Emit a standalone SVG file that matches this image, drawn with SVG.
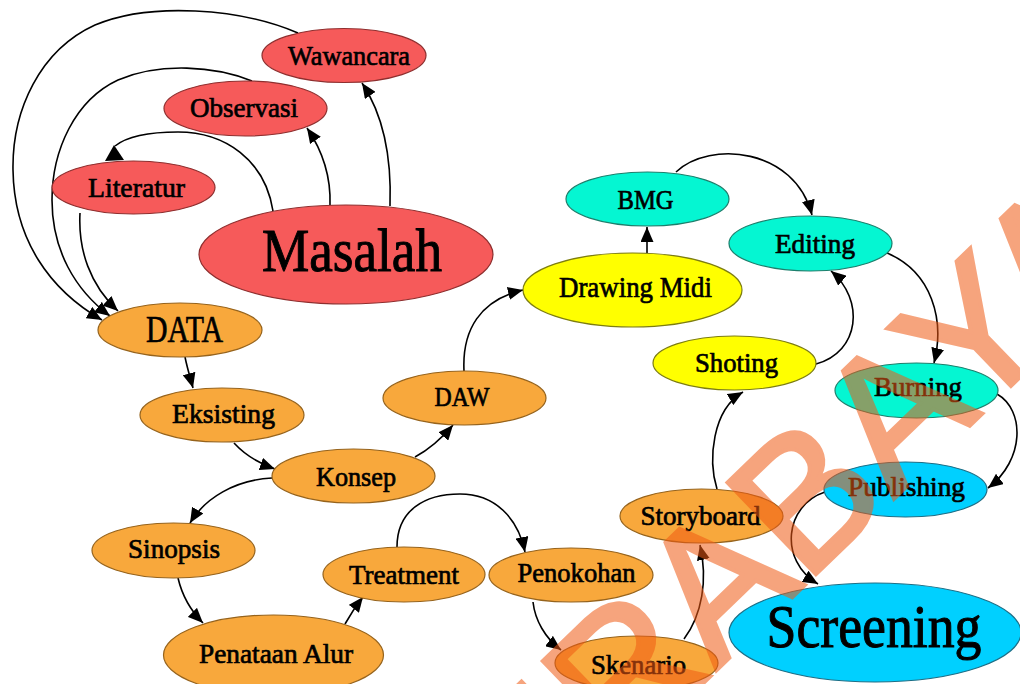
<svg xmlns="http://www.w3.org/2000/svg" width="1020" height="684" viewBox="0 0 1020 684">
<defs>
<style>
.n ellipse{stroke-width:1.2}
.red ellipse{fill:#F65A5A;stroke:#8E2E2E}
.org ellipse{fill:#F8A83C;stroke:#96631C}
.yel ellipse{fill:#FFFF00;stroke:#7D7D10}
.cyn ellipse{fill:#05F6D2;stroke:#1C7F6C}
.blu ellipse{fill:#00D0FF;stroke:#1D6E86}
.n text{font-family:"Liberation Serif","Times New Roman",serif;font-size:28px;fill:#000;stroke:#000;stroke-width:0.7;text-anchor:middle}
.n text.big{font-size:61px;stroke-width:1}
.e path{fill:none;stroke:#000;stroke-width:1.6}
.e path.a{marker-end:url(#ah)}
.wm{font-family:"Liberation Sans",Arial,sans-serif;font-size:185px;fill:#F05A14;stroke:#F05A14;stroke-width:4;stroke-linejoin:miter}
</style>
<marker id="ah" viewBox="0 0 15 13" refX="15" refY="6.5" markerWidth="15" markerHeight="13" markerUnits="userSpaceOnUse" orient="auto">
<path d="M0,0 L15,6.5 L0,13 z" fill="#000"/>
</marker>
</defs>
<rect width="1020" height="684" fill="#fff"/>

<g id="connectors" class="e">
<path class="a" d="M298,33 C240,8 150,2 95,25 C40,50 12,110 13,170 C14,240 50,290 102,320"/>
<path class="a" d="M252,81 C215,66 160,62 118,80 C75,100 52,150 52,200 C52,250 75,290 110,316"/>
<path class="a" d="M80,213 C78,250 90,285 118,311"/>
<path d="M273,211 C265,160 225,132 178,132 C145,132 125,138 115,146"/>
<polygon points="114,145 105,161 124,160" fill="#000"/>
<path class="a" d="M330,205 C331,175 322,150 307,128"/>
<path class="a" d="M390,206 C392,150 380,110 362,83"/>
<path class="a" d="M185,357 C187,367 190,377 193,388"/>
<path class="a" d="M234,443 C245,455 258,463 275,469"/>
<path class="a" d="M415,457 C428,450 442,438 453,425"/>
<path class="a" d="M272,478 C235,480 205,498 190,523"/>
<path class="a" d="M178,578 C182,595 190,610 203,623"/>
<path class="a" d="M345,624 C350,615 356,606 363,597"/>
<path class="a" d="M397,547 C397,510 425,494 460,494 C495,494 518,518 525,552"/>
<path class="a" d="M533,602 C535,620 545,638 561,650"/>
<path class="a" d="M684,639 C702,615 708,580 700,545"/>
<path class="a" d="M717,489 C708,460 712,410 743,392"/>
<path class="a" d="M816,364 C860,352 865,300 831,271"/>
<path class="a" d="M676,172 C710,140 795,148 812,215"/>
<path class="a" d="M647,253 L647,227"/>
<path class="a" d="M464,371 C462,330 480,300 523,290"/>
<path class="a" d="M887,253 C932,272 945,320 934,363"/>
<path class="a" d="M997,394 C1025,410 1025,460 988,488"/>
<path class="a" d="M825,492 C785,505 778,560 818,584"/>
</g>

<g id="wawancara" class="n red"><ellipse cx="344" cy="55.5" rx="82" ry="27"/><text x="349" y="65" textLength="122" lengthAdjust="spacingAndGlyphs">Wawancara</text></g>
<g id="observasi" class="n red"><ellipse cx="245.5" cy="108.5" rx="81.5" ry="27.5"/><text x="244" y="117" textLength="108" lengthAdjust="spacingAndGlyphs">Observasi</text></g>
<g id="literatur" class="n red"><ellipse cx="133.5" cy="187.5" rx="81.5" ry="26.5"/><text x="136.5" y="197" textLength="97" lengthAdjust="spacingAndGlyphs">Literatur</text></g>
<g id="masalah" class="n red"><ellipse cx="346" cy="254.5" rx="147" ry="49.5"/><text class="big" x="352" y="271" textLength="180" lengthAdjust="spacingAndGlyphs">Masalah</text></g>
<g id="data" class="n org"><ellipse cx="180" cy="330" rx="82" ry="27"/><text x="184.5" y="342" style="font-size:37px" textLength="77" lengthAdjust="spacingAndGlyphs">DATA</text></g>
<g id="eksisting" class="n org"><ellipse cx="222" cy="415" rx="82" ry="27"/><text x="223.5" y="423" textLength="103" lengthAdjust="spacingAndGlyphs">Eksisting</text></g>
<g id="konsep" class="n org"><ellipse cx="353.5" cy="476" rx="81.5" ry="27"/><text x="356" y="486" textLength="80" lengthAdjust="spacingAndGlyphs">Konsep</text></g>
<g id="daw" class="n org"><ellipse cx="464.5" cy="398" rx="81.5" ry="27"/><text x="462" y="406" textLength="55" lengthAdjust="spacingAndGlyphs">DAW</text></g>
<g id="sinopsis" class="n org"><ellipse cx="173.5" cy="550.5" rx="81.5" ry="27.5"/><text x="174" y="558" textLength="92" lengthAdjust="spacingAndGlyphs">Sinopsis</text></g>
<g id="treatment" class="n org"><ellipse cx="404" cy="574.5" rx="81" ry="27.5"/><text x="404" y="584" textLength="110" lengthAdjust="spacingAndGlyphs">Treatment</text></g>
<g id="penataan-alur" class="n org"><ellipse cx="273.5" cy="655" rx="110" ry="40"/><text x="276" y="663" textLength="154" lengthAdjust="spacingAndGlyphs">Penataan Alur</text></g>
<g id="penokohan" class="n org"><ellipse cx="571" cy="575" rx="82" ry="27"/><text x="576.5" y="582" textLength="118" lengthAdjust="spacingAndGlyphs">Penokohan</text></g>
<g id="skenario" class="n org"><ellipse cx="636.5" cy="663" rx="81.5" ry="27"/><text x="638.5" y="674" textLength="95" lengthAdjust="spacingAndGlyphs">Skenario</text></g>
<g id="storyboard" class="n org"><ellipse cx="701.5" cy="516" rx="81.5" ry="27"/><text x="700.5" y="525" textLength="120" lengthAdjust="spacingAndGlyphs">Storyboard</text></g>
<g id="drawing-midi" class="n yel"><ellipse cx="632.5" cy="290" rx="109.5" ry="37"/><text x="635.5" y="297" style="font-size:30px" textLength="153" lengthAdjust="spacingAndGlyphs">Drawing Midi</text></g>
<g id="shoting" class="n yel"><ellipse cx="734.5" cy="363" rx="81.5" ry="27"/><text x="736.5" y="372" textLength="83" lengthAdjust="spacingAndGlyphs">Shoting</text></g>
<g id="bmg" class="n cyn"><ellipse cx="647.5" cy="199" rx="81.5" ry="27"/><text x="645.5" y="209" textLength="56" lengthAdjust="spacingAndGlyphs">BMG</text></g>
<g id="editing" class="n cyn"><ellipse cx="810.5" cy="243.5" rx="81.5" ry="27.5"/><text x="815" y="253" textLength="80" lengthAdjust="spacingAndGlyphs">Editing</text></g>
<g id="burning" class="n cyn"><ellipse cx="916.5" cy="390.5" rx="81.5" ry="27.5"/><text x="918" y="396" textLength="88" lengthAdjust="spacingAndGlyphs">Burning</text></g>
<g id="publishing" class="n blu"><ellipse cx="905.5" cy="489.5" rx="81.5" ry="27.5"/><text x="906.5" y="496" textLength="117" lengthAdjust="spacingAndGlyphs">Publishing</text></g>
<g id="screening" class="n blu"><ellipse cx="875" cy="632.5" rx="146" ry="49.5"/><text class="big" x="874" y="647" textLength="215" lengthAdjust="spacingAndGlyphs">Screening</text></g>

<g id="watermark" opacity="0.55"><text class="wm" transform="translate(435.3,941.8) rotate(-44)">SURABAYA</text></g>
</svg>
